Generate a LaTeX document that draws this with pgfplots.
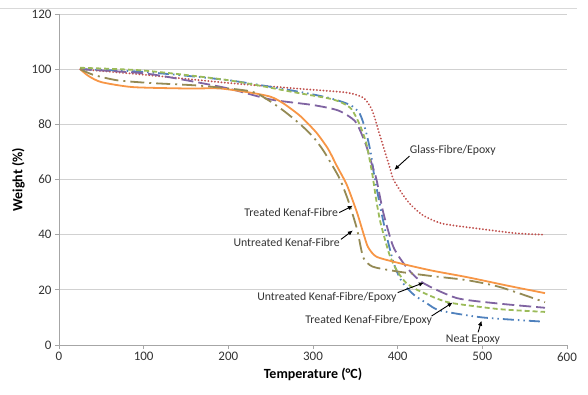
\documentclass[border=0pt]{standalone}
\usepackage{fontspec}
\setmainfont{Carlito}
\usepackage{pgfplots}
\pgfplotsset{compat=1.18}
\usetikzlibrary{arrows.meta}
\definecolor{cred}{HTML}{C0504D}
\definecolor{cblue}{HTML}{4F81BD}
\definecolor{cpurple}{HTML}{8064A2}
\definecolor{cgreen}{HTML}{9BBB59}
\definecolor{corange}{HTML}{F79646}
\definecolor{colive}{HTML}{948A54}
\begin{document}
\begin{tikzpicture}
\begin{axis}[
  scale only axis, width=508pt, height=331pt,
  xmin=0, xmax=600, ymin=0, ymax=120,
  xtick={0,100,...,600}, ytick={0,20,...,120},
  axis x line*=bottom, axis y line*=left,
  ymajorgrids,
  tick align=outside, major tick length=4pt,
  grid style={color=black!18, line width=0.8pt},
  axis line style={black!35, line width=0.8pt},
  tick style={black!35, line width=0.8pt},
  /pgf/number format/assume math mode=true,
  ticklabel style={font=\fontsize{13}{15}\selectfont, color=black!80},
  xlabel={\textbf{Temperature (°C)}},
  ylabel={\textbf{Weight (\%)}},
  label style={font=\fontsize{14}{16}\selectfont},
  every axis plot/.append style={line width=1.8pt, smooth, tension=0.4},
]
% Glass-Fibre/Epoxy
\addplot[cred, line cap=round, dash pattern=on 0.1pt off 3.2pt, line width=2pt] coordinates {
(25,100)(100,98)(200,95)(280,93)(340,91.5)(360,89.5)(370,85)(378,77)(385,70)(391,64)(395,60)(405,55)(415,51)(430,47)(453,44)(500,42)(540,40.5)(572,40)};
% Neat Epoxy
\addplot[cblue, dash pattern=on 11pt off 4pt on 1.5pt off 4pt on 1.5pt off 4pt] coordinates {
(25,100)(100,99)(200,96)(280,92)(320,89.5)(344,87)(355,84)(362,78)(368,70)(372,62)(375,57)(385,42)(395,30)(403,24)(410,21)(420,18)(435,15)(450,12.5)(500,10)(570,8.5)};
% Untreated Kenaf-Fibre/Epoxy
\addplot[cpurple, dash pattern=on 12pt off 5pt] coordinates {
(25,100)(100,98.5)(150,96)(200,93)(250,89)(300,87)(330,85)(350,81)(362,73)(370,65)(375,60)(383,48)(395,35.5)(411,28)(430,22.5)(470,17)(520,15)(574,13.5)};
% Treated Kenaf-Fibre/Epoxy
\addplot[cgreen, dash pattern=on 5pt off 3pt] coordinates {
(25,100.5)(100,99.5)(200,96)(280,91.5)(324,89)(344,86)(355,80)(363,73)(370,62)(375,52)(380,44)(390,33)(399,27)(410,22.5)(423,20)(445,17)(464,15.2)(520,13)(574,12)};
% Treated Kenaf-Fibre
\addplot[corange, solid] coordinates {
(25,100)(35,97.5)(50,95.3)(87,93.5)(150,93)(190,93)(226,91.5)(250,90)(265,87.6)(285,83)(304,77)(318,71)(328,65)(340,58)(352,48)(360,40)(365,35.5)(375,32)(403,29.6)(440,27)(482,24.6)(530,21.5)(574,18.8)};
% Untreated Kenaf-Fibre
\addplot[colive, dash pattern=on 14pt off 5pt on 2pt off 5pt] coordinates {
(25,100)(40,98)(68,96)(107,95)(167,94)(226,92)(246,89)(265,85)(285,80)(300,75.5)(312,70.6)(322,65.5)(332,60)(342,52)(352,42)(359,32)(367,29)(375,28)(403,26.5)(440,25)(482,23.5)(521,21)(574,15.5)};

\begin{scope}[every node/.style={font=\fontsize{11.8}{14}\selectfont, color=black!80, inner sep=1pt}]
\node[anchor=west] at (axis cs:413,70.6) {Glass-Fibre/Epoxy};
\node[anchor=east] at (axis cs:331,48) {Treated Kenaf-Fibre};
\node[anchor=east] at (axis cs:333,37.2) {Untreated Kenaf-Fibre};
\node[anchor=east] at (axis cs:400,17.4) {Untreated Kenaf-Fibre/Epoxy};
\node[anchor=east] at (axis cs:442,9) {Treated Kenaf-Fibre/Epoxy};
\node at (axis cs:489,1.8) {Neat Epoxy};
\end{scope}
\begin{scope}[black, line width=0.9pt, -{Latex[length=5pt,width=4.5pt]}]
\draw (axis cs:414,68.5) -- (axis cs:396,63.5);
\draw (axis cs:331,48) -- (axis cs:347,50.5);
\draw (axis cs:333,38.3) -- (axis cs:347,41.5);
\draw (axis cs:400,19) -- (axis cs:431,22.6);
\draw (axis cs:440,10.5) -- (axis cs:465,15.4);
\draw (axis cs:495,4.6) -- (axis cs:499,8.8);
\end{scope}
\end{axis}
\draw[black!15, line width=0.8pt] (-59pt,337pt) -- (518pt,337pt);
\pgfresetboundingbox
\path[use as bounding box] (-59pt,-49pt) rectangle (529pt,345pt);
\end{tikzpicture}
\end{document}
